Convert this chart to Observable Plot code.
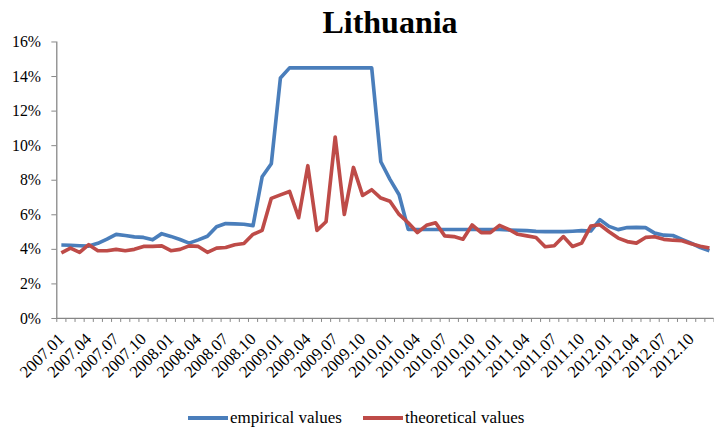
<!DOCTYPE html>
<html>
<head>
<meta charset="utf-8">
<script src="https://cdn.jsdelivr.net/npm/d3@7"></script>
<script src="https://cdn.jsdelivr.net/npm/@observablehq/plot@0.6"></script>
<style>
  html, body { margin: 0; padding: 0; background: #fff; overflow: hidden; }
  #wrap { position: relative; width: 714px; height: 432px; overflow: hidden; font-family: "Liberation Serif", "Times New Roman", serif; }
  #title { position: absolute; left: 0; top: 6px; width: 780px; text-align: center; font-size: 32px; line-height: 32px; font-weight: bold; color: #000; }
  #chart { position: absolute; left: 0; top: 0; }
  #legend { position: absolute; left: 0; top: 408px; width: 714px; height: 20px; font-size: 17px; line-height: 20px; color: #000; }
  .item { position: absolute; top: 0; display: flex; align-items: center; }
  .sw { width: 40px; height: 3.5px; margin-right: 2px; }
</style>
</head>
<body>
<div id="wrap">
  <div id="chart"></div>
  <div id="title">Lithuania</div>
  <div id="legend"></div>
</div>
<script>
// ---- data ----
const years = [2007, 2008, 2009, 2010, 2011, 2012];
const months = ["01","02","03","04","05","06","07","08","09","10","11","12"];
const periods = years.flatMap(y => months.map(m => `${y}.${m}`));
const seriesNames = ["empirical values", "theoretical values"];
const seriesColors = ["#4A7EBB", "#BE4B48"];
const empirical = [
  4.25, 4.24, 4.21, 4.19, 4.35, 4.59, 4.87, 4.80, 4.72, 4.69, 4.55, 4.91,
  4.75, 4.57, 4.36, 4.55, 4.76, 5.31, 5.49, 5.47, 5.45, 5.37, 8.20, 8.95,
  13.92, 14.5, 14.5, 14.5, 14.5, 14.5, 14.5, 14.5, 14.5, 14.5, 14.5, 9.07,
  8.05, 7.16, 5.16, 5.15, 5.15, 5.15, 5.15, 5.15, 5.15, 5.15, 5.15, 5.15,
  5.15, 5.12, 5.10, 5.08, 5.04, 5.03, 5.03, 5.03, 5.05, 5.08, 5.06, 5.72,
  5.33, 5.14, 5.26, 5.27, 5.26, 4.94, 4.82, 4.80, 4.58, 4.36, 4.10, 3.92
];
const theoretical = [
  3.79, 4.07, 3.83, 4.27, 3.92, 3.92, 4.00, 3.92, 4.00, 4.17, 4.17, 4.20,
  3.92, 4.00, 4.20, 4.17, 3.83, 4.07, 4.11, 4.27, 4.34, 4.87, 5.10, 6.95,
  7.15, 7.35, 5.83, 8.84, 5.10, 5.60, 10.50, 6.02, 8.74, 7.12, 7.45, 6.97,
  6.78, 6.02, 5.54, 4.97, 5.39, 5.54, 4.78, 4.74, 4.59, 5.41, 4.97, 4.97,
  5.39, 5.16, 4.87, 4.78, 4.69, 4.15, 4.21, 4.74, 4.17, 4.36, 5.35, 5.42,
  5.02, 4.65, 4.45, 4.36, 4.69, 4.73, 4.58, 4.53, 4.50, 4.32, 4.18, 4.08
];
const yTicks = [0, 2, 4, 6, 8, 10, 12, 14, 16];
const labelEvery = 3;

// ---- build ----
const rows = [];
[empirical, theoretical].forEach((vals, s) => {
  vals.forEach((v, i) => rows.push({i, v, s: seriesNames[s]}));
});
const labelTicks = periods.map((_, i) => i).filter(i => i % labelEvery === 0);
const boundaries = d3.range(periods.length + 1).map(i => i - 0.5);
const axisGray = "#868686";
const serif = "Liberation Serif";

const chart = Plot.plot({
  width: 723,
  height: 400,
  marginLeft: 57,
  marginRight: 0.5,
  marginTop: 42,
  marginBottom: 78,
  style: "background: transparent; overflow: visible; color: #000;",
  x: {type: "linear", domain: [-0.5, periods.length - 0.5]},
  y: {domain: [0, 16]},
  color: {domain: seriesNames, range: seriesColors},
  marks: [
    Plot.ruleY([0], {stroke: axisGray, strokeWidth: 1.3}),
    Plot.ruleX([-0.5], {stroke: axisGray, strokeWidth: 1.3}),
    Plot.axisY(yTicks, {tickSize: 5, tickPadding: 11, stroke: axisGray, fill: "#000", fontFamily: serif, fontSize: 16, label: null, tickFormat: d => d + "%"}),
    Plot.axisX(boundaries, {tickSize: 4, stroke: axisGray, tickFormat: () => "", label: null}),
    Plot.axisX(labelTicks, {tickSize: 0, tickPadding: 18, tickRotate: -45, fill: "#000", fontFamily: serif, fontSize: 17, label: null, tickFormat: i => periods[i]}),
    Plot.line(rows, {x: "i", y: "v", z: "s", stroke: "s", strokeWidth: 3.7, strokeLinejoin: "round", strokeLinecap: "butt"})
  ]
});
document.getElementById("chart").appendChild(chart);

// legend
const legend = document.getElementById("legend");
const lefts = [188, 363];
seriesNames.forEach((name, k) => {
  const it = document.createElement("div");
  it.className = "item";
  it.style.left = lefts[k] + "px";
  const sw = document.createElement("div");
  sw.className = "sw";
  sw.style.background = seriesColors[k];
  const tx = document.createElement("span");
  tx.textContent = name;
  it.appendChild(sw); it.appendChild(tx);
  legend.appendChild(it);
});
</script>
</body>
</html>
